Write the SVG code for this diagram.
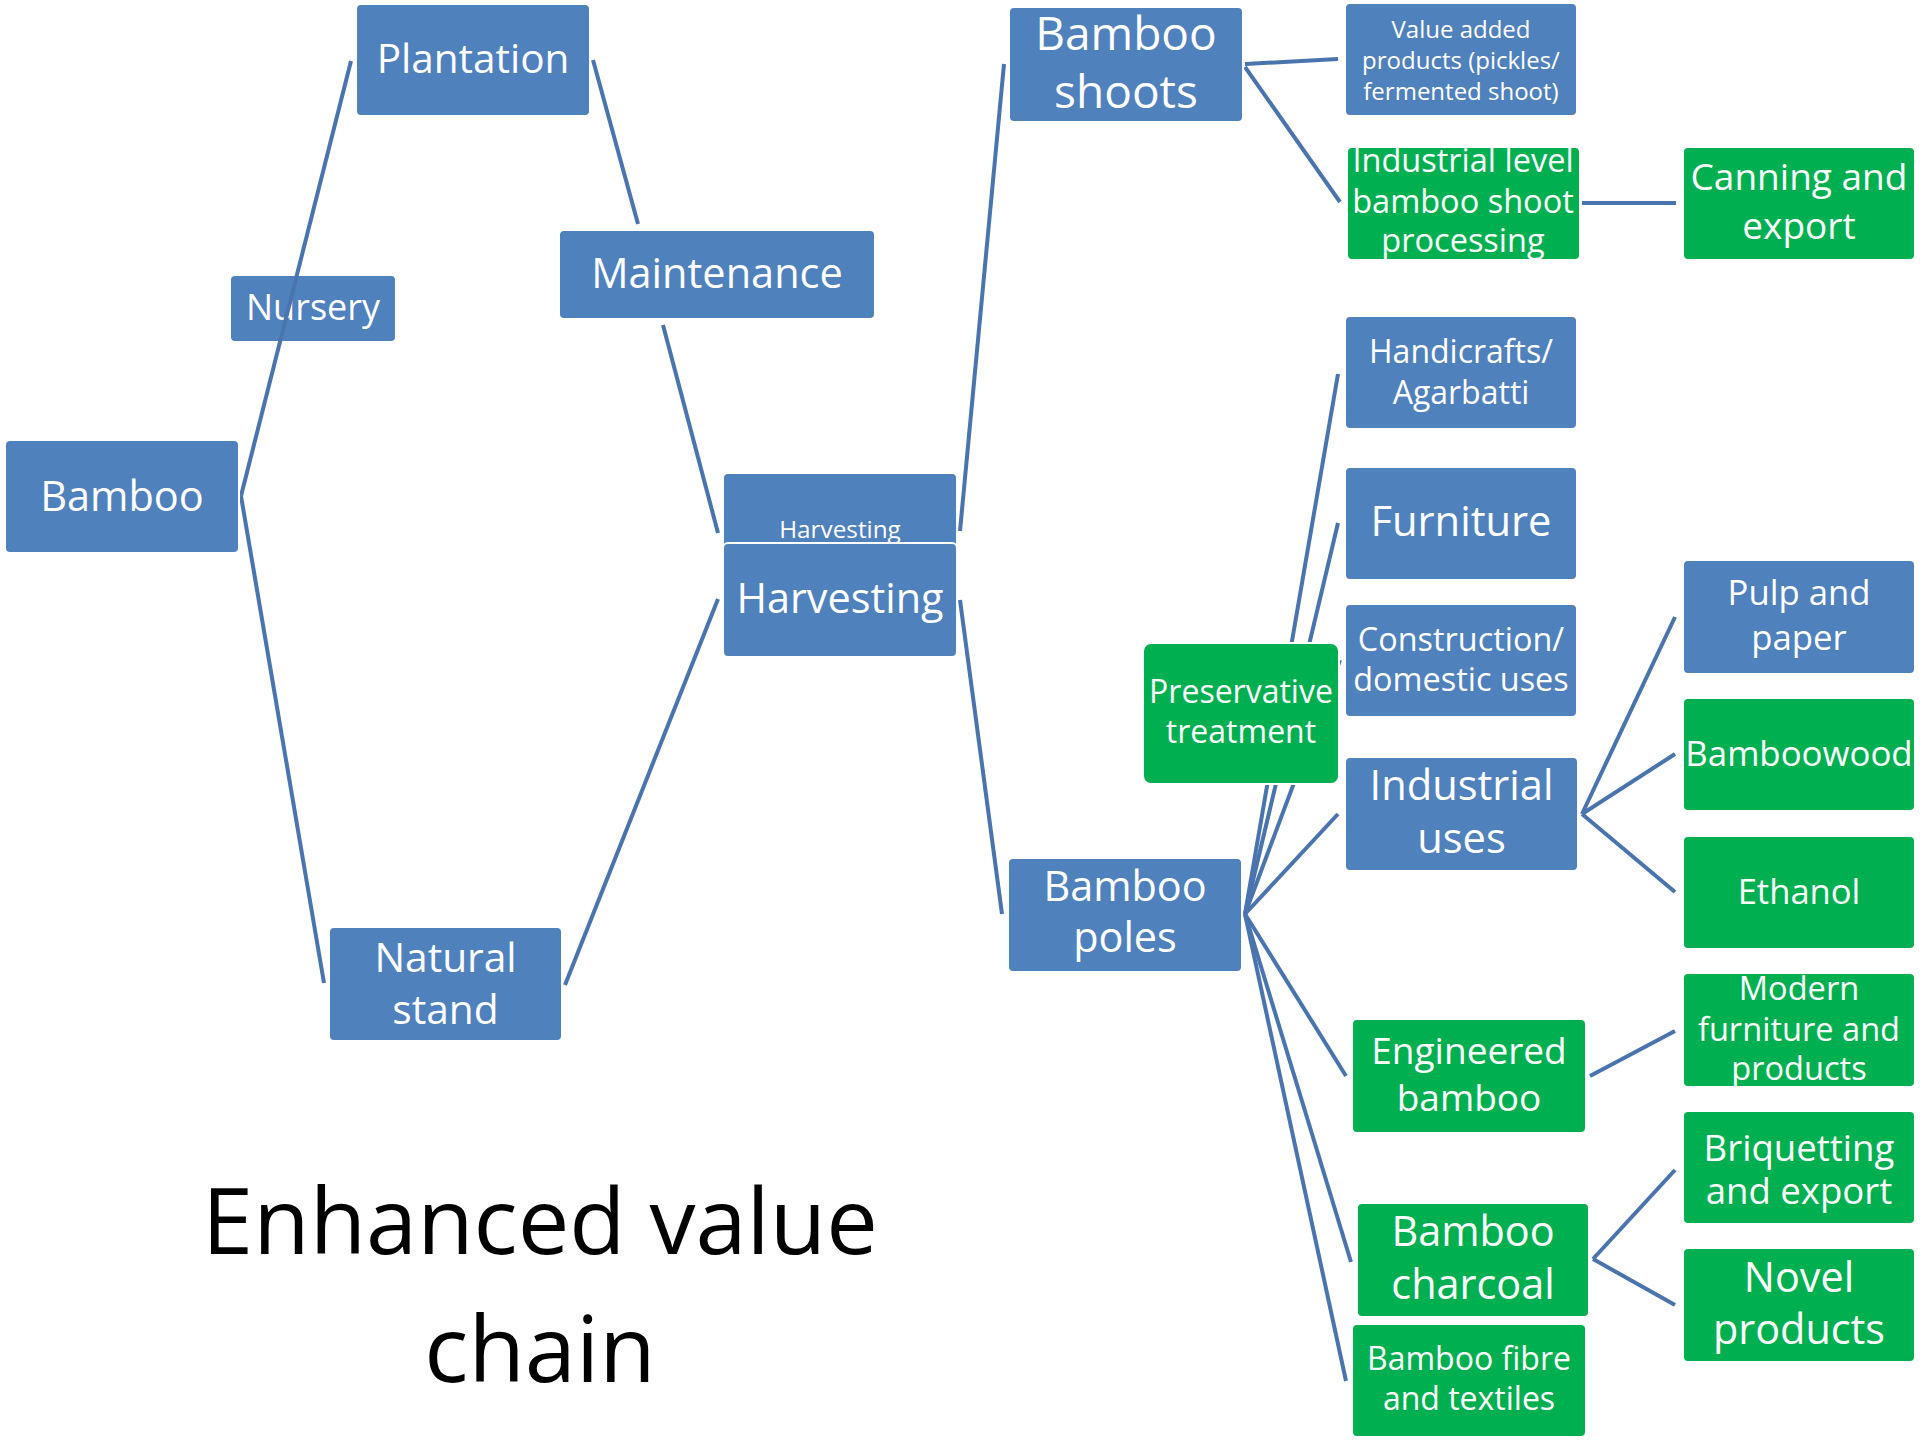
<svg xmlns="http://www.w3.org/2000/svg" width="1920" height="1440" viewBox="0 0 1920 1440">
<style>
.b{fill:#4F81BD;stroke:#FFFFFF;stroke-width:2}
.g{fill:#00B050;stroke:#FFFFFF;stroke-width:2}
text{font-family:"Open Sans","Noto Sans","Liberation Sans",sans-serif;fill:#FFFFFF;text-anchor:middle}
.c line{stroke:#4A74AE;stroke-width:4;stroke-linecap:butt}
.t{fill:#000000}
</style>
<rect width="1920" height="1440" fill="#FFFFFF"/>
<g id="n-nursery"><rect class="b" x="230" y="275" width="166" height="67" rx="5"/><text x="313" y="320" font-size="36">Nursery</text></g>
<g id="connectors" class="c">
<line x1="241" y1="496" x2="351" y2="61"/>
<line x1="241" y1="496" x2="324" y2="983"/>
<line x1="593" y1="60" x2="638" y2="224"/>
<line x1="663" y1="325" x2="718" y2="533"/>
<line x1="565" y1="985" x2="718" y2="599"/>
<line x1="960" y1="531" x2="1004" y2="64"/>
<line x1="960" y1="600" x2="1002" y2="914"/>
<line x1="1245" y1="64" x2="1338" y2="59"/>
<line x1="1245" y1="67" x2="1340" y2="202"/>
<line x1="1582" y1="203" x2="1676" y2="203"/>
<line x1="1245" y1="914" x2="1338" y2="374"/>
<line x1="1245" y1="914" x2="1338" y2="523"/>
<line x1="1245" y1="914" x2="1340" y2="660"/>
<line x1="1245" y1="914" x2="1338" y2="814"/>
<line x1="1245" y1="914" x2="1346" y2="1076"/>
<line x1="1245" y1="914" x2="1351" y2="1262"/>
<line x1="1245" y1="914" x2="1346" y2="1381"/>
<line x1="1582" y1="814" x2="1675" y2="617"/>
<line x1="1582" y1="814" x2="1675" y2="754"/>
<line x1="1582" y1="814" x2="1675" y2="892"/>
<line x1="1590" y1="1076" x2="1675" y2="1031"/>
<line x1="1593" y1="1259" x2="1675" y2="1170"/>
<line x1="1593" y1="1259" x2="1675" y2="1305"/>
</g>
<g id="n-plantation"><rect class="b" x="356" y="4" width="234" height="112" rx="5"/><text x="473" y="73" font-size="40.5">Plantation</text></g>
<g id="n-maintenance"><rect class="b" x="559" y="230" width="316" height="89" rx="5"/><text x="717" y="288" font-size="41.5">Maintenance</text></g>
<g id="n-bamboo"><rect class="b" x="5" y="440" width="234" height="113" rx="5"/><text x="122" y="511" font-size="41.5">Bamboo</text></g>
<g id="n-harvesting-back"><rect class="b" x="723" y="473" width="234" height="114" rx="5"/><text x="840" y="538" font-size="24.3">Harvesting</text></g>
<g id="n-harvesting"><rect class="b" x="723" y="543" width="234" height="114" rx="5"/><text x="840" y="613" font-size="41.4">Harvesting</text></g>
<g id="n-natural-stand"><rect class="b" x="329" y="927" width="233" height="114" rx="5"/><text x="445.5" font-size="40.7"><tspan x="445.5" y="972">Natural</tspan><tspan x="445.5" y="1024">stand</tspan></text></g>
<g id="n-bamboo-shoots"><rect class="b" x="1009" y="7" width="234" height="115" rx="5"/><text font-size="46"><tspan x="1126" y="50">Bamboo</tspan><tspan x="1126" y="108">shoots</tspan></text></g>
<g id="n-value-added"><rect class="b" x="1345" y="3" width="232" height="113" rx="5"/><text font-size="24"><tspan x="1461" y="38">Value added</tspan><tspan x="1461" y="69">products (pickles/</tspan><tspan x="1461" y="100">fermented shoot)</tspan></text></g>
<g id="n-industrial-level"><rect class="g" x="1347" y="147" width="233" height="113" rx="5"/><text font-size="32.5"><tspan x="1463" y="172">Industrial level</tspan><tspan x="1463" y="213">bamboo shoot</tspan><tspan x="1463" y="252">processing</tspan></text></g>
<g id="n-canning"><rect class="g" x="1683" y="147" width="232" height="113" rx="5"/><text font-size="37"><tspan x="1799" y="190">Canning and</tspan><tspan x="1799" y="239">export</tspan></text></g>
<g id="n-handicrafts"><rect class="b" x="1345" y="316" width="232" height="113" rx="5"/><text font-size="32"><tspan x="1461" y="363">Handicrafts/</tspan><tspan x="1461" y="404">Agarbatti</tspan></text></g>
<g id="n-furniture"><rect class="b" x="1345" y="467" width="232" height="113" rx="5"/><text x="1461" y="536" font-size="41.7">Furniture</text></g>
<g id="n-construction"><rect class="b" x="1345" y="604" width="232" height="113" rx="5"/><text font-size="32.4"><tspan x="1461" y="651">Construction/</tspan><tspan x="1461" y="691">domestic uses</tspan></text></g>
<g id="n-pulp"><rect class="b" x="1683" y="560" width="232" height="114" rx="5"/><text font-size="34.7"><tspan x="1799" y="605">Pulp and</tspan><tspan x="1799" y="650">paper</tspan></text></g>
<g id="n-preservative"><rect class="g" x="1143" y="643" width="196" height="141" rx="8"/><text font-size="32"><tspan x="1241" y="703">Preservative</tspan><tspan x="1241" y="743">treatment</tspan></text></g>
<g id="n-industrial-uses"><rect class="b" x="1345" y="757" width="233" height="114" rx="5"/><text font-size="41.6"><tspan x="1461.5" y="800">Industrial</tspan><tspan x="1461.5" y="853">uses</tspan></text></g>
<g id="n-bamboowood"><rect class="g" x="1683" y="698" width="232" height="113" rx="5"/><text x="1799" y="766" font-size="34.8">Bamboowood</text></g>
<g id="n-ethanol"><rect class="g" x="1683" y="836" width="232" height="113" rx="5"/><text x="1799" y="904" font-size="34.6">Ethanol</text></g>
<g id="n-bamboo-poles"><rect class="b" x="1008" y="858" width="234" height="114" rx="5"/><text font-size="41.4"><tspan x="1125" y="901">Bamboo</tspan><tspan x="1125" y="952">poles</tspan></text></g>
<g id="n-engineered"><rect class="g" x="1352" y="1019" width="234" height="114" rx="5"/><text font-size="37"><tspan x="1469" y="1064">Engineered</tspan><tspan x="1469" y="1111">bamboo</tspan></text></g>
<g id="n-modern"><rect class="g" x="1683" y="973" width="232" height="114" rx="5"/><text font-size="32.6"><tspan x="1799" y="1000">Modern</tspan><tspan x="1799" y="1041">furniture and</tspan><tspan x="1799" y="1080">products</tspan></text></g>
<g id="n-briquetting"><rect class="g" x="1683" y="1111" width="232" height="113" rx="5"/><text font-size="36.6"><tspan x="1799" y="1161">Briquetting</tspan><tspan x="1799" y="1204">and export</tspan></text></g>
<g id="n-charcoal"><rect class="g" x="1357" y="1203" width="232" height="114" rx="5"/><text font-size="41.4"><tspan x="1473" y="1246">Bamboo</tspan><tspan x="1473" y="1299">charcoal</tspan></text></g>
<g id="n-novel"><rect class="g" x="1683" y="1248" width="232" height="114" rx="5"/><text font-size="41.4"><tspan x="1799" y="1292">Novel</tspan><tspan x="1799" y="1344">products</tspan></text></g>
<g id="n-fibre"><rect class="g" x="1352" y="1324" width="234" height="113" rx="5"/><text font-size="32"><tspan x="1469" y="1370">Bamboo fibre</tspan><tspan x="1469" y="1410">and textiles</tspan></text></g>
<g id="title"><text class="t" font-size="92"><tspan x="540" y="1254">Enhanced value</tspan><tspan x="540" y="1382">chain</tspan></text></g>
</svg>
